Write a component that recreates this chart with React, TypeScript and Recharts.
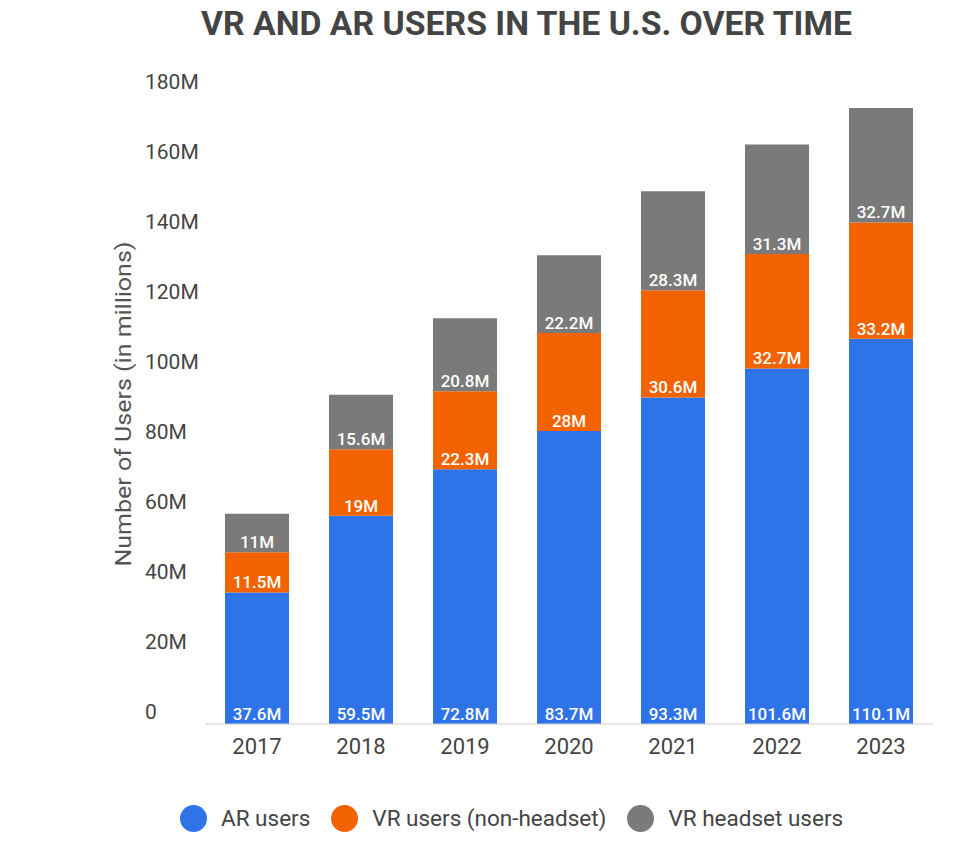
import React from "react";
import { BarChart, Bar, XAxis, YAxis, LabelList } from "recharts";

const years = ["2017", "2018", "2019", "2020", "2021", "2022", "2023"];
const arUsers = [37.6, 59.5, 72.8, 83.7, 93.3, 101.6, 110.1];
const vrNonHeadset = [11.5, 19, 22.3, 28, 30.6, 32.7, 33.2];
const vrHeadset = [11, 15.6, 20.8, 22.2, 28.3, 31.3, 32.7];
const yTicks = [0, 20, 40, 60, 80, 100, 120, 140, 160, 180];

const series = [
  { key: "ar", name: "AR users", color: "#2f73e8" },
  { key: "vrn", name: "VR users (non-headset)", color: "#f26300" },
  { key: "vrh", name: "VR headset users", color: "#7a7a7a" },
];

const data = years.map((year, i) => ({
  year,
  ar: arUsers[i],
  vrn: vrNonHeadset[i],
  vrh: vrHeadset[i],
}));

const FONT = "Roboto, 'Noto Sans', sans-serif";

const YTick = (props: any) => {
  const { y, payload } = props;
  const v = payload.value;
  return (
    <text x={145} y={y - 5} textAnchor="start" fontSize={21} fill="#444" fontFamily={FONT}>
      {v === 0 ? "0" : `${v}M`}
    </text>
  );
};

const XTick = (props: any) => {
  const { x, y, payload } = props;
  return (
    <text x={x} y={y + 22} textAnchor="middle" fontSize={22} fill="#444" fontFamily={FONT}>
      {payload.value}
    </text>
  );
};

const SegLabel = (props: any) => {
  const { x, y, width, height, value } = props;
  return (
    <text
      x={x + width / 2}
      y={y + height - 4}
      textAnchor="middle"
      fontSize={17}
      fontWeight={500}
      fill="#fff"
      fontFamily={FONT}
    >
      {`${value}M`}
    </text>
  );
};

export default function App() {
  return (
    <div style={{ position: "absolute", left: 0, top: 0, width: 979, height: 848, background: "#fff", fontFamily: FONT }}>
      <svg width={979} height={60} style={{ position: "absolute", left: 0, top: 0 }}>
        <text
          x={201}
          y={35}
          fontSize={34}
          fontWeight={700}
          fill="#444"
          fontFamily={FONT}
          textLength={651}
          lengthAdjust="spacingAndGlyphs"
        >
          VR AND AR USERS IN THE U.S. OVER TIME
        </text>
      </svg>
      <div style={{ position: "absolute", left: 0, top: 0 }}>
        <BarChart
          width={979}
          height={790}
          data={data}
          margin={{ top: 94, right: 46, bottom: 0, left: 0 }}
          barSize={64}
        >
          <XAxis
            dataKey="year"
            height={66}
            axisLine={{ stroke: "#cccccc" }}
            tickLine={false}
            tick={<XTick />}
            interval={0}
          />
          <YAxis
            width={205}
            domain={[0, 180]}
            ticks={yTicks}
            axisLine={false}
            tickLine={false}
            tick={<YTick />}
            label={{
              value: "Number of Users (in millions)",
              position: "insideLeft",
              content: () => (
                <text
                  x={123}
                  y={404}
                  transform="rotate(-90 123 404)"
                  textAnchor="middle"
                  dominantBaseline="central"
                  fontSize={22}
                  fill="#555"
                  fontFamily={FONT}
                  textLength={325}
                  lengthAdjust="spacingAndGlyphs"
                >
                  Number of Users (in millions)
                </text>
              ),
            }}
          />
          {series.map((s) => (
            <Bar key={s.key} dataKey={s.key} name={s.name} stackId="a" fill={s.color} isAnimationActive={false}>
              <LabelList dataKey={s.key} content={<SegLabel />} />
            </Bar>
          ))}
        </BarChart>
      </div>
      <div
        style={{
          position: "absolute",
          top: 804,
          left: 180,
          display: "flex",
          alignItems: "center",
          fontSize: 22.5,
          color: "#444",
          height: 28,
        }}
      >
        {series.map((s, i) => (
          <div key={s.key} style={{ display: "flex", alignItems: "center", marginLeft: i === 0 ? 0 : 21 }}>
            <span
              style={{
                width: 27,
                height: 27,
                borderRadius: "50%",
                background: s.color,
                display: "inline-block",
                marginRight: 14,
              }}
            />
            <span>{s.name}</span>
          </div>
        ))}
      </div>
    </div>
  );
}
